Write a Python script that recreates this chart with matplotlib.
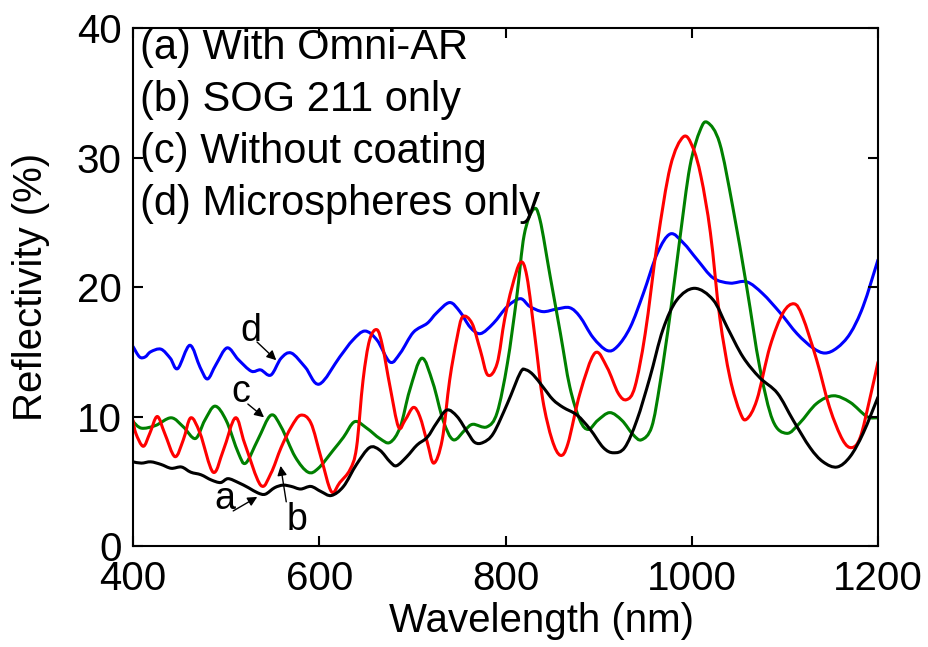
import matplotlib
matplotlib.use("Agg")
import matplotlib.pyplot as plt
import numpy as np
from matplotlib.path import Path
from matplotlib.patches import PathPatch

plt.rcParams['font.family'] = ['Liberation Sans', 'DejaVu Sans']

# (a) With Omni-AR
wl_a = [400, 409, 419, 430, 441, 452, 462, 473, 484, 494, 502, 513, 524, 534, 542, 552, 561, 570, 580, 591,
        602, 613, 626, 640, 654, 665, 676, 683, 694, 705, 716, 726, 737, 748, 759, 767, 776, 787, 802, 816,
        822, 830, 840, 851, 862, 877, 891, 905, 916, 928, 941, 955, 969, 984, 1003, 1023, 1038, 1055, 1073,
        1092, 1109, 1127, 1141, 1156, 1170, 1184, 1200]
r_a = [6.5, 6.4, 6.5, 6.3, 6.0, 6.1, 5.7, 5.5, 5.1, 4.9, 5.2, 4.9, 4.5, 4.1, 4.0, 4.5, 4.7, 4.6, 4.4, 4.6,
       4.2, 3.9, 4.6, 6.3, 7.6, 7.4, 6.5, 6.2, 6.9, 7.8, 8.4, 9.5, 10.5, 10.0, 8.8, 8.0, 8.0, 8.7, 11.0, 13.4,
       13.6, 13.2, 12.3, 11.3, 10.7, 10.1, 9.0, 7.6, 7.2, 7.6, 9.7, 13.0, 16.7, 19.0, 19.9, 19.0, 16.9, 14.6, 13.0,
       11.8, 9.7, 7.6, 6.5, 6.1, 6.9, 8.7, 11.5]

# (b) SOG 211 only
wl_b = [400, 403, 411, 418, 426, 434, 445, 454, 462, 472, 486, 497, 510, 520, 537, 548, 559, 570, 580, 591,
        602, 613, 622, 633, 640, 647, 654, 662, 668, 676, 685, 692, 701, 708, 716, 723, 732, 740, 748, 754,
        764, 773, 781, 791, 799, 807, 816, 823, 832, 840, 850, 859, 867, 880, 896, 909, 921, 930, 939, 950,
        963, 977, 991, 1001, 1010, 1020, 1030, 1041, 1052, 1059, 1070, 1084, 1098, 1110, 1119, 1134, 1148,
        1162, 1172, 1181, 1191, 1200]
r_b = [9.7, 8.7, 7.7, 8.7, 10.0, 8.7, 6.9, 8.2, 9.9, 8.7, 5.7, 7.4, 9.9, 7.9, 4.7, 5.6, 7.6, 9.2, 10.1, 9.5,
       6.8, 4.2, 4.9, 5.9, 7.6, 12.8, 15.9, 16.7, 15.4, 12.3, 9.2, 9.7, 10.7, 10.0, 8.0, 6.4, 8.2, 12.8, 16.1, 17.7,
       17.2, 15.1, 13.2, 14.1, 17.5, 20.0, 21.9, 20.8, 15.9, 11.3, 8.2, 7.0, 7.9, 11.8, 14.9, 13.8, 11.8, 11.3, 12.3, 16.4,
       23.4, 29.3, 31.6, 30.8, 28.5, 24.2, 17.7, 13.0, 10.3, 9.8, 11.3, 15.4, 18.0, 18.7, 17.7, 14.4, 10.7,
       8.2, 7.6, 8.4, 11.3, 14.2]

# (c) Without coating
wl_c = [400, 409, 424, 441, 454, 467, 477, 488, 500, 513, 521, 534, 548, 559, 574, 588, 599, 615, 626, 638,
        651, 665, 676, 687, 697, 710, 722, 733, 744, 757, 765, 780, 791, 802, 812, 820, 830, 837, 848, 859,
        869, 880, 889, 899, 912, 925, 937, 946, 957, 966, 977, 987, 998, 1009, 1017, 1030, 1044, 1059, 1073,
        1087, 1102, 1116, 1134, 1152, 1170, 1188, 1200]
r_c = [9.6, 9.1, 9.3, 9.9, 9.2, 8.3, 9.7, 10.8, 9.7, 7.2, 6.4, 8.2, 10.1, 9.2, 6.9, 5.7, 6.0, 7.4, 8.4, 9.6,
       9.1, 8.3, 8.0, 9.2, 12.0, 14.5, 12.6, 9.7, 8.2, 9.0, 9.4, 9.2, 10.3, 14.1, 19.2, 24.0, 26.0, 25.2, 20.8, 16.4,
       12.3, 9.7, 9.0, 9.7, 10.3, 9.7, 8.6, 8.2, 9.2, 12.6, 18.0, 23.6, 29.3, 32.1, 32.7, 31.1, 26.2, 20.0, 13.8,
       9.7, 8.7, 9.5, 11.0, 11.6, 11.1, 10.0, 9.9]

# (d) Microspheres only
wl_d = [400, 407, 413, 419, 430, 440, 448, 461, 472, 480, 489, 501, 513, 527, 537, 548, 559, 570, 585, 600,
        622, 636, 649, 662, 676, 687, 701, 716, 726, 740, 751, 762, 773, 787, 802, 816, 826, 840, 855, 869,
        880, 894, 909, 920, 934, 948, 963, 977, 991, 1006, 1023, 1041, 1059, 1076, 1095, 1113, 1130, 1143,
        1156, 1170, 1184, 1200]
r_d = [15.4, 14.6, 14.6, 15.0, 15.2, 14.5, 13.7, 15.5, 13.8, 12.9, 14.0, 15.3, 14.4, 13.5, 13.6, 13.2, 14.5, 14.9, 13.8, 12.5,
       14.6, 15.9, 16.6, 15.9, 14.2, 14.9, 16.5, 17.2, 18.0, 18.8, 18.1, 16.9, 16.4, 17.2, 18.5, 19.1, 18.5, 18.1, 18.3, 18.4,
       17.7, 16.1, 15.1, 15.4, 16.9, 19.5, 22.6, 24.1, 23.4, 22.1, 20.7, 20.3, 20.4, 19.5, 18.0, 16.4, 15.3, 14.9,
       15.3, 16.4, 18.5, 22.1]

legend_lines = ["(a) With Omni-AR", "(b) SOG 211 only", "(c) Without coating", "(d) Microspheres only"]


def smooth_curve(ax, x, y, color, lw):
    # draw through the measured points with Catmull-Rom style bezier segments
    p = np.column_stack([x, y]).astype(float)
    p = np.vstack([p[0], p, p[-1]])
    verts = [tuple(p[1])]
    codes = [Path.MOVETO]
    for i in range(1, len(p) - 2):
        c1 = p[i] + (p[i + 1] - p[i - 1]) / 6.0
        c2 = p[i + 1] - (p[i + 2] - p[i]) / 6.0
        verts += [tuple(c1), tuple(c2), tuple(p[i + 1])]
        codes += [Path.CURVE4] * 3
    patch = PathPatch(Path(verts, codes), facecolor='none', edgecolor=color,
                      lw=lw, capstyle='round', joinstyle='round')
    ax.add_patch(patch)


fig = plt.figure(figsize=(9.29, 6.47), dpi=100)
ax = fig.add_axes([0.1432, 0.1561, 0.8019, 0.8006])

lw = 2.2
smooth_curve(ax, wl_d, r_d, '#0000ff', lw)
smooth_curve(ax, wl_c, r_c, '#008000', lw)
smooth_curve(ax, wl_b, r_b, '#ff0000', lw)
smooth_curve(ax, wl_a, r_a, 'black', lw)

ax.set_xlim(400, 1200)
ax.set_ylim(0, 40)
ax.set_xticks([400, 600, 800, 1000, 1200])
ax.set_yticks([0, 10, 20, 30, 40])
ax.tick_params(direction='in', top=True, right=True, length=7, width=1.5, labelsize=29)
ax.tick_params(axis='x', pad=10)
ax.tick_params(axis='y', pad=8)
for s in ax.spines.values():
    s.set_linewidth(1.5)

ax.set_xlabel("Wavelength (nm)", fontsize=29)
ax.xaxis.set_label_coords(0.548, -0.108)
ax.set_ylabel("Reflectivity (%)", fontsize=29)
ax.yaxis.set_label_coords(-0.112, 0.5)

for i, t in enumerate(legend_lines):
    ax.text(0.009, 0.962 - i * 0.1005, t, transform=ax.transAxes, fontsize=30,
            ha='left', va='center')

# curve labels with arrows
arrow = dict(arrowstyle='-|>', color='black', lw=1.0, mutation_scale=14)
ax.text(527, 16.6, "d", fontsize=27, ha='center', va='center')
ax.annotate("", xy=(556, 14.2), xytext=(531, 15.9), arrowprops=arrow)
ax.text(516, 11.9, "c", fontsize=27, ha='center', va='center')
ax.annotate("", xy=(543, 9.8), xytext=(521, 11.1), arrowprops=arrow)
ax.text(499, 3.6, "a", fontsize=27, ha='center', va='center')
ax.annotate("", xy=(536, 3.9), xytext=(505, 2.6), arrowprops=arrow)
ax.text(576, 2.0, "b", fontsize=27, ha='center', va='center')
ax.annotate("", xy=(558, 6.4), xytext=(565, 3.2), arrowprops=arrow)

fig.savefig("out.png", dpi=100)
